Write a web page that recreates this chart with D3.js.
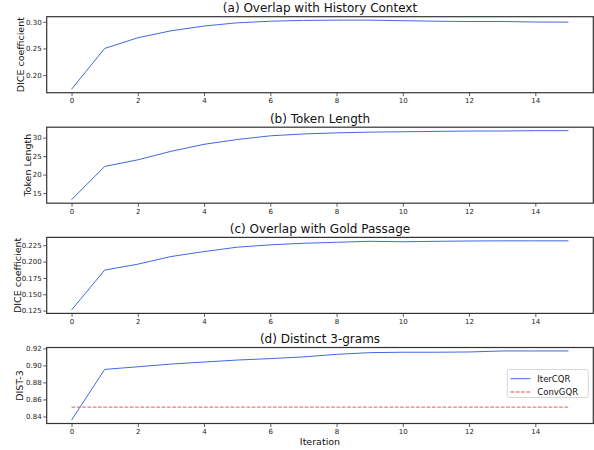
<!DOCTYPE html>
<html><head><meta charset="utf-8">
<script src="https://cdn.jsdelivr.net/npm/d3@7"></script>
<style>body{margin:0;background:#fff}svg{display:block}text{font-family:"DejaVu Sans",sans-serif}</style>
</head><body>
<svg id="chart" width="594" height="450"></svg>
<script>
const iterations = [0,1,2,3,4,5,6,7,8,9,10,11,12,13,14,15];
const historyDice = [0.1735,0.250,0.270,0.283,0.292,0.298,0.301,0.3025,0.303,0.303,0.302,0.301,0.3005,0.3005,0.2995,0.2993];
const tokenLength = [13.2,22.2,24.0,26.3,28.2,29.5,30.5,31.0,31.3,31.5,31.6,31.7,31.8,31.8,31.9,31.9];
const goldDice = [0.126,0.187,0.196,0.2077,0.2153,0.222,0.2256,0.228,0.2295,0.231,0.2303,0.231,0.2315,0.2317,0.2317,0.2317];
const dist3 = [0.8358,0.8953,0.8984,0.9016,0.904,0.9063,0.908,0.910,0.913,0.915,0.9155,0.9155,0.9158,0.917,0.917,0.917];
const convGQR = 0.851;
const xTicks = [0,2,4,6,8,10,12,14];
const ticksA = [0.20,0.25,0.30];
const ticksB = [15,20,25,30];
const ticksC = [0.125,0.150,0.175,0.200,0.225];
const ticksD = [0.84,0.86,0.88,0.90,0.92];
const titles = ["(a) Overlap with History Context","(b) Token Length","(c) Overlap with Gold Passage","(d) Distinct 3-grams"];
const yLabels = ["DICE coefficient","Token Length","DICE coefficient","DIST-3"];
const legendLabels = ["IterCQR","ConvGQR"];

const svg = d3.select("#chart");
const left = 46.7, right = 593.3, plotH = 76;
const tops = [16.7, 127.2, 237.4, 347.5];
const x = d3.scaleLinear().domain([-0.75, 15.75]).range([left, right]);

const panels = [
  {data: historyDice, ticks: ticksA, fmt: d3.format(".2f"), labelX: 24},
  {data: tokenLength, ticks: ticksB, fmt: d3.format("d"), labelX: 30.5},
  {data: goldDice, ticks: ticksC, fmt: d3.format(".3f"), labelX: 21},
  {data: dist3, ticks: ticksD, fmt: d3.format(".2f"), labelX: 23.3, ref: convGQR}
];

panels.forEach((p, i) => {
  const top = tops[i];
  let vals = p.data.slice();
  if (p.ref !== undefined) vals.push(p.ref);
  const mn = d3.min(vals), mx = d3.max(vals), pad = (mx - mn) * 0.05;
  const y = d3.scaleLinear().domain([mn - pad, mx + pad]).range([top + plotH, top]);
  const g = svg.append("g");

  const xa = g.append("g").attr("transform", `translate(0,${top + plotH})`)
    .call(d3.axisBottom(x).tickValues(xTicks).tickFormat(d3.format("d")).tickSize(3.5).tickPadding(2));
  const ya = g.append("g").attr("transform", `translate(${left},0)`)
    .call(d3.axisLeft(y).tickValues(p.ticks).tickFormat(p.fmt).tickSize(3.5).tickPadding(1.5));
  [xa, ya].forEach(a => {
    a.select(".domain").remove();
    a.selectAll(".tick line").attr("stroke", "#333").attr("stroke-width", 0.8);
    a.selectAll(".tick text").attr("font-size", 7).attr("fill", "#222").attr("font-family", "DejaVu Sans");
  });

  const line = d3.line().x((d, j) => x(iterations[j])).y(d => y(d));
  g.append("path").datum(p.data).attr("d", line).attr("fill", "none")
    .attr("stroke", "#4169e1").attr("stroke-width", 1);
  if (p.ref !== undefined) {
    g.append("path").datum(iterations.map(() => p.ref)).attr("d", line).attr("fill", "none")
      .attr("stroke", "#e04848").attr("stroke-width", 0.9).attr("stroke-dasharray", "3.7,1.6");
  }

  g.append("rect").attr("x", left).attr("y", top).attr("width", right - left).attr("height", plotH)
    .attr("fill", "none").attr("stroke", "#333").attr("stroke-width", 1.2);

  g.append("text").attr("x", (left + right) / 2).attr("y", top - 4.3).attr("text-anchor", "middle")
    .attr("font-size", 12).attr("fill", "#111").text(titles[i]);
  g.append("text").attr("transform", `translate(${p.labelX},${top + plotH / 2}) rotate(-90)`)
    .attr("text-anchor", "middle").attr("font-size", 9.5).attr("fill", "#111").text(yLabels[i]);

  if (i === 3) {
    g.append("text").attr("x", (left + right) / 2).attr("y", 445).attr("text-anchor", "middle")
      .attr("font-size", 9.5).attr("fill", "#111").text("Iteration");
    const lg = g.append("g");
    lg.append("rect").attr("x", 507.3).attr("y", 369.5).attr("width", 81).attr("height", 28).attr("rx", 2)
      .attr("fill", "#fff").attr("fill-opacity", 0.8).attr("stroke", "#ccc").attr("stroke-width", 0.8);
    const colors = ["#4169e1", "#e04848"], dashes = [null, "3.7,1.6"], ly = [378.7, 392];
    legendLabels.forEach((lab, k) => {
      lg.append("line").attr("x1", 510.5).attr("x2", 530.5).attr("y1", ly[k]).attr("y2", ly[k])
        .attr("stroke", colors[k]).attr("stroke-width", 1).attr("stroke-dasharray", dashes[k]);
      lg.append("text").attr("x", 537.3).attr("y", ly[k] + 3.2).attr("font-size", 8.5).attr("fill", "#111").text(lab);
    });
  }
});
</script>
</body></html>
